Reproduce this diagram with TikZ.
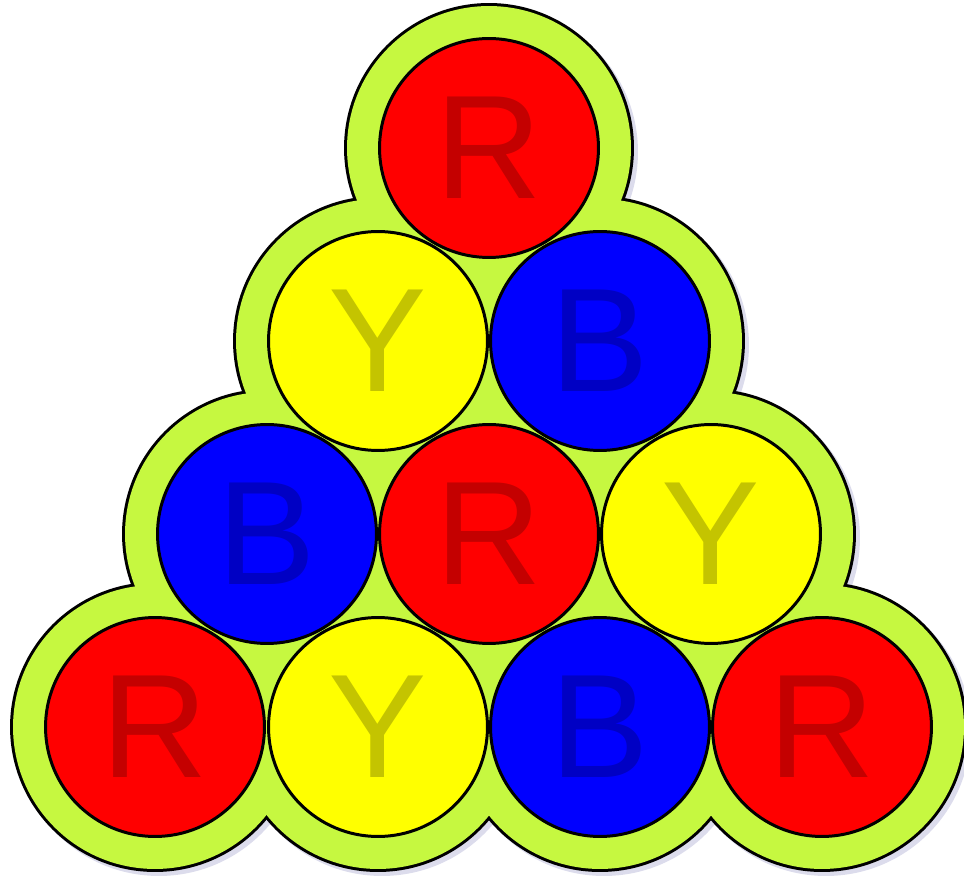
\documentclass[tikz,border=0pt]{standalone}
\usepackage{fontspec}
\setmainfont{Liberation Sans}
\definecolor{halogreen}{RGB}{198,248,64}
\definecolor{shadowgray}{RGB}{220,220,236}
\definecolor{ballred}{RGB}{255,0,0}
\definecolor{ballyellow}{RGB}{255,255,0}
\definecolor{ballblue}{RGB}{0,0,255}
\tikzset{
  ball/.style={circle, draw=black, line width=1.7pt, fill=#1, text=#1!77!black,
    minimum size=4.38cm, inner sep=0pt,
    font=\fontsize{84}{84}\selectfont},
}
\begin{document}
\begin{tikzpicture}[x=0.02cm, y=-0.02cm]
  \useasboundingbox (0,0) rectangle (964,878);

  % green halo round the balls: shadow, outline, fill
  \foreach \x/\y in {489/148, 378/341, 600/341, 267/534, 489/534, 711/534,
                     155/727, 378/727, 600/727, 822/727} {
    \fill[shadowgray] ({\x+4}, {\y+4}) circle (2.9cm);
  }
  \foreach \x/\y in {489/148, 378/341, 600/341, 267/534, 489/534, 711/534,
                     155/727, 378/727, 600/727, 822/727} {
    \fill[black] (\x, \y) circle (2.9cm);
  }
  \foreach \x/\y in {489/148, 378/341, 600/341, 267/534, 489/534, 711/534,
                     155/727, 378/727, 600/727, 822/727} {
    \fill[halogreen] (\x, \y) circle (2.84cm);
  }

  % the balls
  \foreach \n/\x/\y/\c/\lbl in {1/489/148/ballred/R,
      2/378/341/ballyellow/Y, 3/600/341/ballblue/B,
      4/267/534/ballblue/B, 5/489/534/ballred/R, 6/711/534/ballyellow/Y,
      7/155/727/ballred/R, 8/378/727/ballyellow/Y, 9/600/727/ballblue/B,
      10/822/727/ballred/R} {
    \node[ball=\c] (b\n) at (\x, \y) {\lbl};
  }
\end{tikzpicture}
\end{document}
